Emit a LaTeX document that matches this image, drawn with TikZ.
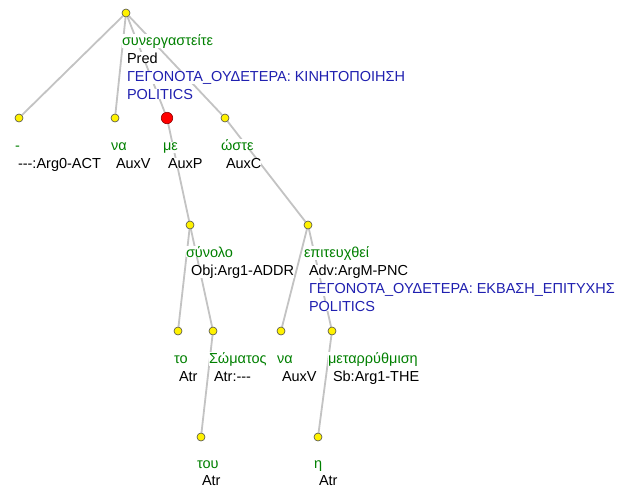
\documentclass[tikz,border=0pt]{standalone}
\usepackage{fontspec}
\setmainfont{Liberation Sans}
\pgfdeclarelayer{bg}
\pgfsetlayers{bg,main}
\definecolor{lblgreen}{RGB}{0,128,0}
\definecolor{lblblue}{RGB}{32,32,176}
\definecolor{edgegray}{RGB}{195,195,195}
\begin{document}
\begin{tikzpicture}[x=1pt,y=-1pt,
  dot/.style={circle,draw=black!70,fill=yellow,line width=0.6pt,minimum size=8pt,inner sep=0},
  reddot/.style={circle,draw=red!55!black,fill=red,line width=0.6pt,minimum size=11.5pt,inner sep=0},
  edge/.style={draw=edgegray,line width=1.8pt},
  lbl/.style={anchor=base west,inner sep=0,outer sep=0,fill=white,font=\fontsize{14.5}{17}\selectfont},
  fw/.style={lbl,text=lblgreen},
  fn/.style={lbl,text=black},
  sm/.style={lbl,text=lblblue}]
\useasboundingbox (0,0) rectangle (626,488);
% nodes
\node[dot] (r) at (126,13) {};
\node[dot] (n1) at (19,118) {};
\node[dot] (na) at (115,118) {};
\node[reddot] (me) at (167,118) {};
\node[dot] (os) at (225,118) {};
\node[dot] (sy) at (190,225) {};
\node[dot] (ep) at (308,225) {};
\node[dot] (to) at (178,331) {};
\node[dot] (so) at (213,331) {};
\node[dot] (nb) at (281,331) {};
\node[dot] (mt) at (332,331) {};
\node[dot] (tu) at (201,437) {};
\node[dot] (et) at (318,437) {};
% edges
\begin{pgfonlayer}{bg}
\fill[white] (0,0) rectangle (626,488);
\draw[edge] (r) -- (n1);
\draw[edge] (r) -- (na);
\draw[edge] (r) -- (me);
\draw[edge] (r) -- (os);
\draw[edge] (me) -- (sy);
\draw[edge] (os) -- (ep);
\draw[edge] (sy) -- (to);
\draw[edge] (sy) -- (so);
\draw[edge] (so) -- (tu);
\draw[edge] (ep) -- (nb);
\draw[edge] (ep) -- (mt);
\draw[edge] (mt) -- (et);
\end{pgfonlayer}
% labels
\node[fw] (r1) at (122,45) {συνεργαστείτε};
\node[fn] (r2) at (127,63) {Pred};
\node[sm] (r3) at (127,81) {ΓΕΓΟΝΟΤΑ\_ΟΥΔΕΤΕΡΑ: ΚΙΝΗΤΟΠΟΙΗΣΗ};
\node[sm] (r4) at (127,99) {POLITICS};
\node[fw] (n1a) at (15,150) {-};
\node[fn] (n1b) at (18,168) {{-}{-}{-}:Arg0-ACT};
\node[fw] (naa) at (111,150) {να};
\node[fn] (nab) at (116,168) {AuxV};
\node[fw] (mea) at (163,150) {με};
\node[fn] (meb) at (168,168) {AuxP};
\node[fw] (osa) at (221,150) {ώστε};
\node[fn] (osb) at (226,168) {AuxC};
\node[fw] (sya) at (186,257) {σύνολο};
\node[fn] (syb) at (191,275) {Obj:Arg1-ADDR};
\node[fw] (epa) at (304,257) {επιτευχθεί};
\node[fn] (epb) at (309,275) {Adv:ArgM-PNC};
\node[sm] (epc) at (309,293) {ΓΕΓΟΝΟΤΑ\_ΟΥΔΕΤΕΡΑ: ΕΚΒΑΣΗ\_ΕΠΙΤΥΧΗΣ};
\node[sm] (epd) at (309,311) {POLITICS};
\node[fw] (toa) at (174,363) {το};
\node[fn] (tob) at (179,381) {Atr};
\node[fw] (soa) at (209,363) {Σώματος};
\node[fn] (sob) at (214,381) {Atr:{-}{-}{-}};
\node[fw] (nba) at (277,363) {να};
\node[fn] (nbb) at (282,381) {AuxV};
\node[fw] (mta) at (328,363) {μεταρρύθμιση};
\node[fn] (mtb) at (333,381) {Sb:Arg1-THE};
\node[fw] (tua) at (197,468) {του};
\node[fn] (tub) at (202,485.5) {Atr};
\node[fw] (eta) at (314,468) {η};
\node[fn] (etb) at (319,485.5) {Atr};
\end{tikzpicture}
\end{document}
